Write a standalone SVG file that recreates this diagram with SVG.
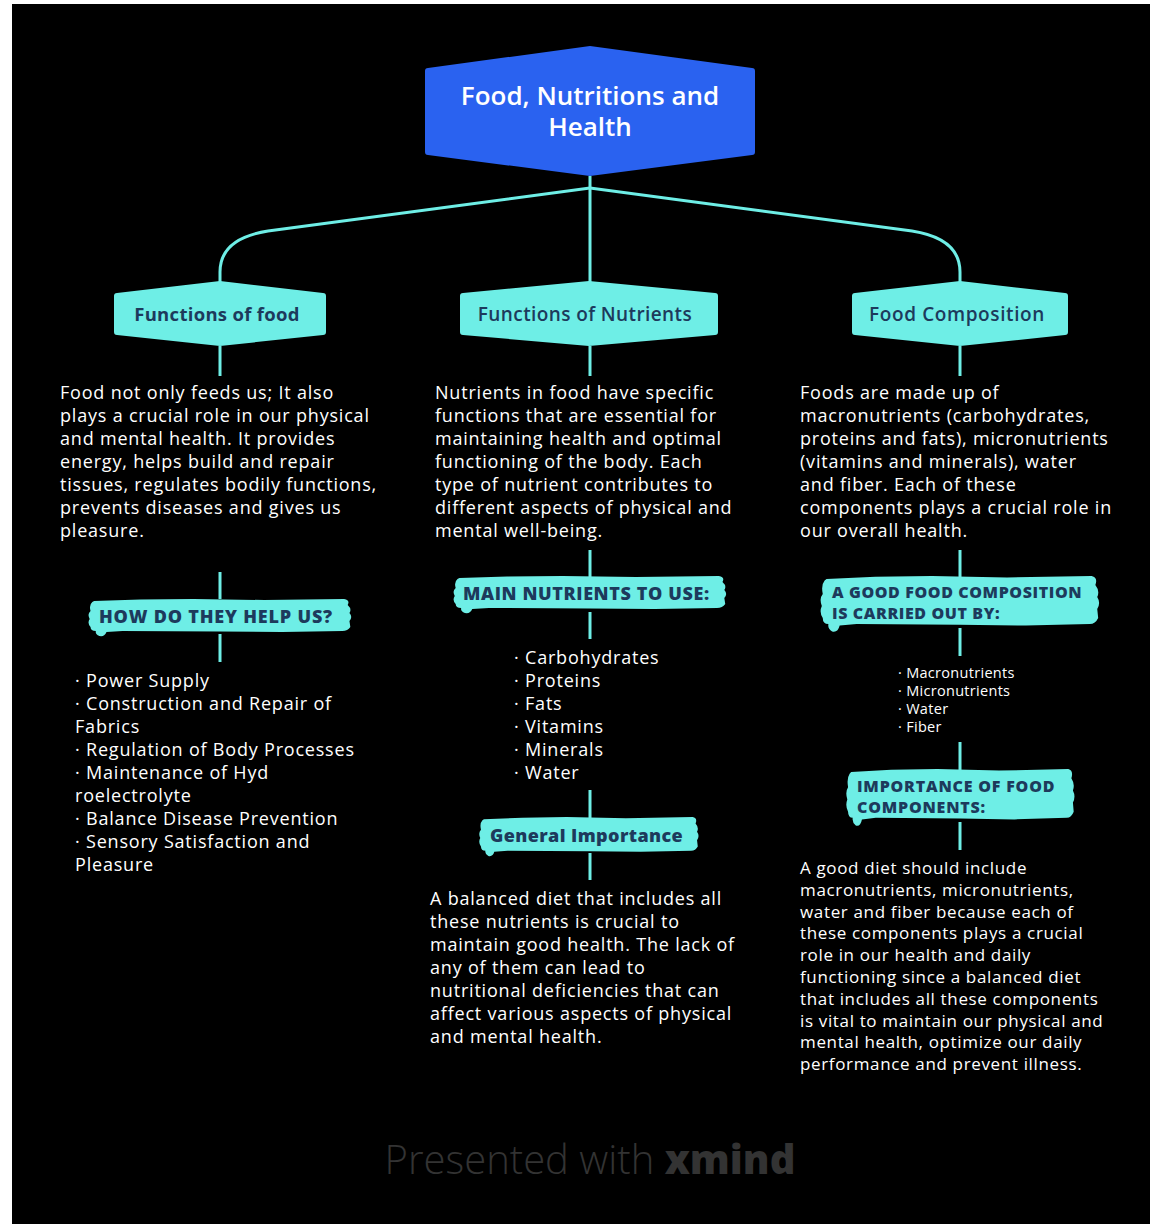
<svg xmlns="http://www.w3.org/2000/svg" xmlns:xlink="http://www.w3.org/1999/xlink" width="1150" height="1224" viewBox="0 0 1150 1224">
<style>
.body{font-family:"Open Sans","Liberation Sans",sans-serif;font-size:18px;letter-spacing:0.8px;fill:#ffffff}
.small{font-size:14.5px;letter-spacing:0.3px}
.l1{font-family:"Open Sans","Liberation Sans",sans-serif;font-size:19px;fill:#1d3a5c;font-weight:600;text-anchor:middle}
.lab{font-family:"Open Sans","Liberation Sans",sans-serif;font-size:17px;fill:#1d3a5c;font-weight:800}
.conn{fill:none;stroke:#6eeee6;stroke-width:3}
.hex{fill:#6eeee6}
</style>
<defs>
<symbol id="brushShape" viewBox="0 0 300 40" preserveAspectRatio="none">
<path fill="#6eeee6" d="M8,4 L60,2.5 L120,2 L200,3 L290,2 Q297,3 294,8 Q299,12 296,16 Q300,20 296,24 L297,30 Q294,34 288,34 L220,35 L150,34.5 L40,34 L22,35 Q20,40 14,39 Q9,37 10,34 Q4,34 4,30 Q0,26 3,22 Q0,17 4,14 Q2,8 6,5 Z"/>
</symbol>
</defs>
<rect x="0" y="0" width="1150" height="1224" fill="#ffffff"/>
<rect x="12" y="4" width="1138" height="1220" fill="#000000"/>

<g id="connectors">
<path class="conn" d="M590,176 V290"/>
<path class="conn" d="M590,188 L268,231 C236,236 220,250 220,272 V284"/>
<path class="conn" d="M590,188 L912,231 C944,236 960,250 960,272 V284"/>
<path class="conn" d="M220,346 V376"/>
<path class="conn" d="M590,346 V376"/>
<path class="conn" d="M960,346 V376"/>
<path class="conn" d="M220,572 V599"/>
<path class="conn" d="M220,634 V662"/>
<path class="conn" d="M590,550 V577"/>
<path class="conn" d="M590,612 V639"/>
<path class="conn" d="M590,790 V818"/>
<path class="conn" d="M590,853 V880"/>
<path class="conn" d="M960,550 V577"/>
<path class="conn" d="M960,628 V656"/>
<path class="conn" d="M960,742 V770"/>
<path class="conn" d="M960,822 V850"/>
</g>

<g id="root">
<path fill="#2a62f0" d="M425,71 Q425,68 428,68 L590,46 L752,68 Q755,68 755,71 L755,152 Q755,155 752,155 L590,176 L428,155 Q425,155 425,152 Z"/>
<text font-family="'Open Sans','Liberation Sans',sans-serif" font-size="26" font-weight="600" fill="#ffffff" text-anchor="middle"><tspan x="590" y="105">Food, Nutritions and</tspan><tspan x="590" y="136">Health</tspan></text>
</g>

<g id="functions-food">
<path class="hex" d="M114,296 Q114,293 117,293 L220,281 L323,293 Q326,293 326,296 L326,332 Q326,335 323,335 L220,346 L117,335 Q114,335 114,332 Z"/>
<text class="l1" x="217" y="321" style="font-weight:700;font-size:18.5px;letter-spacing:0.3px">Functions of food</text>
</g>
<g id="functions-nutrients">
<path class="hex" d="M460,296 Q460,293 463,293 L589,281 L715,293 Q718,293 718,296 L718,332 Q718,335 715,335 L589,346 L463,335 Q460,335 460,332 Z"/>
<text class="l1" x="585" y="321" style="letter-spacing:0.4px">Functions of Nutrients</text>
</g>
<g id="food-composition">
<path class="hex" d="M852,296 Q852,293 855,293 L960,281 L1065,293 Q1068,293 1068,296 L1068,332 Q1068,335 1065,335 L960,346 L855,335 Q852,335 852,332 Z"/>
<text class="l1" x="957" y="321" style="letter-spacing:0.6px">Food Composition</text>
</g>

<g id="food-text">
<text class="body"><tspan x="60" y="399">Food not only feeds us; It also</tspan><tspan x="60" dy="23">plays a crucial role in our physical</tspan><tspan x="60" dy="23">and mental health. It provides</tspan><tspan x="60" dy="23">energy, helps build and repair</tspan><tspan x="60" dy="23">tissues, regulates bodily functions,</tspan><tspan x="60" dy="23">prevents diseases and gives us</tspan><tspan x="60" dy="23">pleasure.</tspan></text>
</g>
<g id="nutrients-text">
<text class="body"><tspan x="435" y="399">Nutrients in food have specific</tspan><tspan x="435" dy="23">functions that are essential for</tspan><tspan x="435" dy="23">maintaining health and optimal</tspan><tspan x="435" dy="23">functioning of the body. Each</tspan><tspan x="435" dy="23">type of nutrient contributes to</tspan><tspan x="435" dy="23">different aspects of physical and</tspan><tspan x="435" dy="23">mental well-being.</tspan></text>
</g>
<g id="composition-text">
<text class="body"><tspan x="800" y="399">Foods are made up of</tspan><tspan x="800" dy="23">macronutrients (carbohydrates,</tspan><tspan x="800" dy="23">proteins and fats), micronutrients</tspan><tspan x="800" dy="23">(vitamins and minerals), water</tspan><tspan x="800" dy="23">and fiber. Each of these</tspan><tspan x="800" dy="23">components plays a crucial role in</tspan><tspan x="800" dy="23">our overall health.</tspan></text>
</g>

<g id="how-help">
<use href="#brushShape" xlink:href="#brushShape" x="87" y="597" width="266" height="40"/>
<text class="lab" x="99" y="623" style="font-size:18px;letter-spacing:0.8px">HOW DO THEY HELP US?</text>
</g>
<g id="help-list">
<text class="body"><tspan x="75" y="687">· Power Supply</tspan><tspan x="75" dy="23">· Construction and Repair of</tspan><tspan x="75" dy="23">Fabrics</tspan><tspan x="75" dy="23">· Regulation of Body Processes</tspan><tspan x="75" dy="23">· Maintenance of Hyd</tspan><tspan x="75" dy="23">roelectrolyte</tspan><tspan x="75" dy="23">· Balance Disease Prevention</tspan><tspan x="75" dy="23">· Sensory Satisfaction and</tspan><tspan x="75" dy="23">Pleasure</tspan></text>
</g>

<g id="main-nutrients">
<use href="#brushShape" xlink:href="#brushShape" x="452" y="574" width="276" height="40"/>
<text class="lab" x="463" y="600" style="font-size:18px;letter-spacing:0.6px">MAIN NUTRIENTS TO USE:</text>
</g>
<g id="nutrients-list">
<text class="body"><tspan x="514" y="664">· Carbohydrates</tspan><tspan x="514" dy="23">· Proteins</tspan><tspan x="514" dy="23">· Fats</tspan><tspan x="514" dy="23">· Vitamins</tspan><tspan x="514" dy="23">· Minerals</tspan><tspan x="514" dy="23">· Water</tspan></text>
</g>

<g id="general-importance">
<use href="#brushShape" xlink:href="#brushShape" x="478" y="815" width="222" height="42"/>
<text class="lab" x="490" y="842" style="font-size:18px;letter-spacing:0.4px">General Importance</text>
</g>
<g id="importance-text">
<text class="body"><tspan x="430" y="905">A balanced diet that includes all</tspan><tspan x="430" dy="23">these nutrients is crucial to</tspan><tspan x="430" dy="23">maintain good health. The lack of</tspan><tspan x="430" dy="23">any of them can lead to</tspan><tspan x="430" dy="23">nutritional deficiencies that can</tspan><tspan x="430" dy="23">affect various aspects of physical</tspan><tspan x="430" dy="23">and mental health.</tspan></text>
</g>

<g id="good-composition">
<use href="#brushShape" xlink:href="#brushShape" x="819" y="573" width="282" height="60"/>
<text class="lab" style="font-size:16px;letter-spacing:0.6px"><tspan x="832" y="598">A GOOD FOOD COMPOSITION</tspan><tspan x="832" y="619">IS CARRIED OUT BY:</tspan></text>
</g>
<g id="composition-list">
<text class="body small"><tspan x="898" y="678">· Macronutrients</tspan><tspan x="898" dy="18">· Micronutrients</tspan><tspan x="898" dy="18">· Water</tspan><tspan x="898" dy="18">· Fiber</tspan></text>
</g>

<g id="importance-components">
<use href="#brushShape" xlink:href="#brushShape" x="845" y="766" width="231" height="61"/>
<text class="lab" style="font-size:16px;letter-spacing:0.8px"><tspan x="857" y="792">IMPORTANCE OF FOOD</tspan><tspan x="857" y="813">COMPONENTS:</tspan></text>
</g>
<g id="components-text">
<text class="body" style="font-size:17px;letter-spacing:0.65px"><tspan x="800" y="874">A good diet should include</tspan><tspan x="800" dy="21.8">macronutrients, micronutrients,</tspan><tspan x="800" dy="21.8">water and fiber because each of</tspan><tspan x="800" dy="21.8">these components plays a crucial</tspan><tspan x="800" dy="21.8">role in our health and daily</tspan><tspan x="800" dy="21.8">functioning since a balanced diet</tspan><tspan x="800" dy="21.8">that includes all these components</tspan><tspan x="800" dy="21.8">is vital to maintain our physical and</tspan><tspan x="800" dy="21.8">mental health, optimize our daily</tspan><tspan x="800" dy="21.8">performance and prevent illness.</tspan></text>
</g>

<g id="footer">
<text x="590" y="1174" text-anchor="middle" font-family="'Open Sans','Liberation Sans',sans-serif" font-size="40" fill="#333333" font-weight="300">Presented with <tspan font-weight="800">xmind</tspan></text>
</g>
</svg>
